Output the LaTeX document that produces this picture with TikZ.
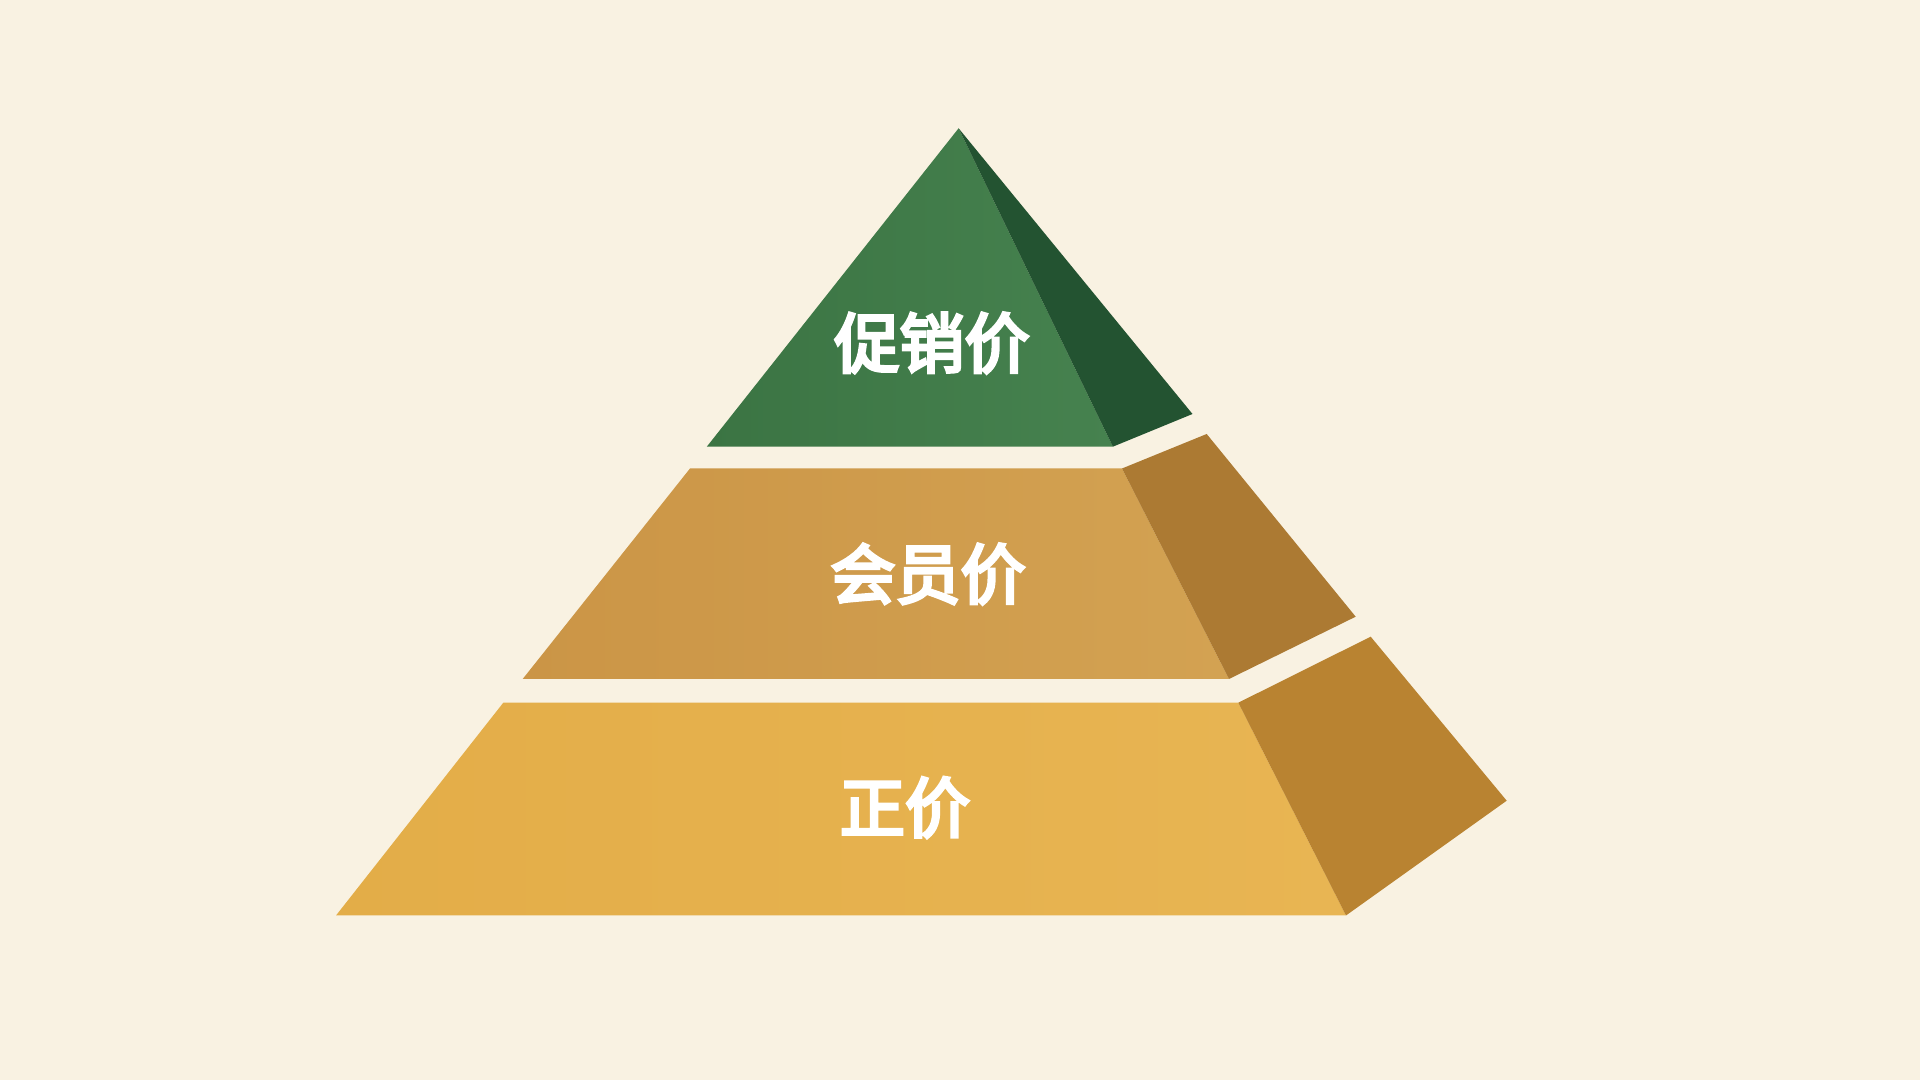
\documentclass[tikz,border=0pt]{standalone}
\usepackage{fontspec}
\newfontfamily\cjk{Noto Sans CJK SC}[FakeBold=5]
\usetikzlibrary{shadings}
\definecolor{bg}{HTML}{F9F2E2}
\definecolor{gfrontL}{HTML}{3B7443}
\definecolor{gfrontR}{HTML}{46824F}
\definecolor{gside}{HTML}{235331}
\definecolor{mfrontL}{HTML}{CB9546}
\definecolor{mfrontR}{HTML}{D3A252}
\definecolor{mside}{HTML}{AC7A33}
\definecolor{bfrontL}{HTML}{E3AD48}
\definecolor{bfrontR}{HTML}{E8B553}
\definecolor{bside}{HTML}{B98331}
\tikzset{
  tierlabel/.style={text=white, font=\cjk\fontsize{18.5}{18.5}\selectfont, inner sep=0pt},
}
\begin{document}
\begin{tikzpicture}[x=0.01cm, y=-0.01cm]
\useasboundingbox (0,0) rectangle (1920,1080);
\fill[bg] (0,0) rectangle (1920,1080);
% top tier (green)
\shade[left color=gfrontL, right color=gfrontR] (958.6,128.3) -- (706.8,446.7) -- (1112.9,446.7) -- cycle;
\fill[gside] (958.6,128.3) -- (1112.9,446.7) -- (1192.5,414) -- cycle;
% middle tier
\shade[left color=mfrontL, right color=mfrontR] (690,468.5) -- (1122,468.5) -- (1229,679) -- (522.7,679) -- cycle;
\fill[mside] (1122,468.5) -- (1206.7,434) -- (1355.7,616.7) -- (1229,679) -- cycle;
% bottom tier
\shade[left color=bfrontL, right color=bfrontR] (503.3,702.7) -- (1238.3,702.7) -- (1346,915.5) -- (336,915.5) -- cycle;
\fill[bside] (1238.3,702.7) -- (1370.7,636.7) -- (1506.7,800.7) -- (1346,915.5) -- cycle;
% labels
\node[tierlabel] (top) at (932,343) {促销价};
\node[tierlabel] (mid) at (928,574) {会员价};
\node[tierlabel] (bot) at (905,807.5) {正价};
\end{tikzpicture}
\end{document}
